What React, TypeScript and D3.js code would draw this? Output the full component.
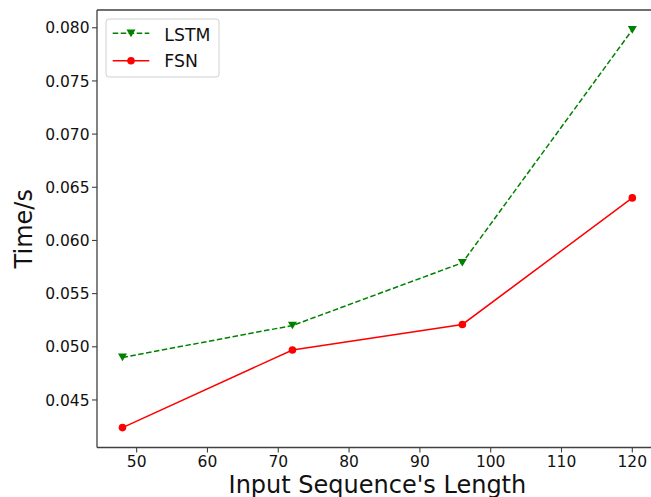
import React from "react";
import * as d3 from "d3";

const xValues = [48, 72, 96, 120];
const lstmValues = [0.049, 0.052, 0.0579, 0.0798];
const fsnValues = [0.0424, 0.0497, 0.0521, 0.064];
const xTicks = [50, 60, 70, 80, 90, 100, 110, 120];
const yTicks = [0.045, 0.05, 0.055, 0.06, 0.065, 0.07, 0.075, 0.08];
const seriesNames = ["LSTM", "FSN"];

const W = 651;
const H = 497;
const left = 97;
const right = 657.8;
const top = 10;
const bottom = 447.5;
const FONT = "DejaVu Sans, sans-serif";

export default function App() {
  const xMin = d3.min(xValues)!;
  const xMax = d3.max(xValues)!;
  const xPad = (xMax - xMin) * 0.05;
  const allY = [...lstmValues, ...fsnValues];
  const yMin = d3.min(allY)!;
  const yMax = d3.max(allY)!;
  const yPad = (yMax - yMin) * 0.05;

  const x = d3.scaleLinear().domain([xMin - xPad, xMax + xPad]).range([left, right]);
  const y = d3.scaleLinear().domain([yMin - yPad, yMax + yPad]).range([bottom, top]);

  const line = d3
    .line<[number, number]>()
    .x((d) => x(d[0]))
    .y((d) => y(d[1]));

  const lstmPts: [number, number][] = xValues.map((v, i) => [v, lstmValues[i]]);
  const fsnPts: [number, number][] = xValues.map((v, i) => [v, fsnValues[i]]);

  const tri = (cx: number, cy: number, s = 4.5) =>
    `M${cx - s},${cy - s * 0.85}L${cx + s},${cy - s * 0.85}L${cx},${cy + s * 0.85}Z`;

  const spine = "#404040";

  return (
    <svg
      width={W}
      height={H}
      style={{ position: "absolute", left: 0, top: 0 }}
      fontFamily={FONT}
    >
      <rect x={0} y={0} width={W} height={H} fill="white" />
      {/* lines */}
      <path d={line(lstmPts) || ""} fill="none" stroke="green" strokeWidth={1.5} strokeDasharray="5.5,2.5" />
      <path d={line(fsnPts) || ""} fill="none" stroke="red" strokeWidth={1.5} />
      {lstmPts.map((p, i) => (
        <path key={"l" + i} d={tri(x(p[0]), y(p[1]))} fill="green" />
      ))}
      {fsnPts.map((p, i) => (
        <circle key={"f" + i} cx={x(p[0])} cy={y(p[1])} r={3.8} fill="red" />
      ))}

      {/* spines */}
      <line x1={left} x2={left} y1={top} y2={bottom} stroke={spine} strokeWidth={1.3} />
      <line x1={left} x2={W + 10} y1={bottom} y2={bottom} stroke={spine} strokeWidth={1.3} />
      <line x1={left} x2={W + 10} y1={top} y2={top} stroke={spine} strokeWidth={1.3} />
      <line x1={right} x2={right} y1={top} y2={bottom} stroke={spine} strokeWidth={1.3} />

      {/* x ticks */}
      {xTicks.map((t) => (
        <g key={"xt" + t}>
          <line x1={x(t)} x2={x(t)} y1={bottom} y2={bottom + 5} stroke={spine} strokeWidth={1.1} />
          <text x={x(t)} y={467} textAnchor="middle" fontSize={15.5} fill="#111">
            {t}
          </text>
        </g>
      ))}
      {/* y ticks */}
      {yTicks.map((t) => (
        <g key={"yt" + t}>
          <line x1={left - 5} x2={left} y1={y(t)} y2={y(t)} stroke={spine} strokeWidth={1.1} />
          <text x={89.5} y={y(t) + 5.6} textAnchor="end" fontSize={15.5} fill="#111">
            {d3.format(".3f")(t)}
          </text>
        </g>
      ))}

      {/* axis labels */}
      <text x={(left + right) / 2} y={492.5} textAnchor="middle" fontSize={24} fill="#111">
        Input Sequence's Length
      </text>
      <text
        transform={`translate(31.5, ${(top + bottom) / 2}) rotate(-90)`}
        textAnchor="middle"
        fontSize={24}
        fill="#111"
      >
        Time/s
      </text>

      {/* legend */}
      <rect x={106} y={19} width={113} height={58} rx={3} fill="white" fillOpacity={0.8} stroke="#d0d0d0" strokeWidth={1} />
      <line x1={112.7} x2={149.3} y1={33.3} y2={33.3} stroke="green" strokeWidth={1.5} strokeDasharray="5.5,2.5" />
      <path d={tri(131, 33.3)} fill="green" />
      <text x={164.3} y={40.5} fontSize={17.3} fill="#111">
        {seriesNames[0]}
      </text>
      <line x1={112.7} x2={149.3} y1={60.7} y2={60.7} stroke="red" strokeWidth={1.5} />
      <circle cx={131} cy={60.7} r={3.8} fill="red" />
      <text x={164.3} y={67.3} fontSize={17.3} fill="#111">
        {seriesNames[1]}
      </text>
    </svg>
  );
}
